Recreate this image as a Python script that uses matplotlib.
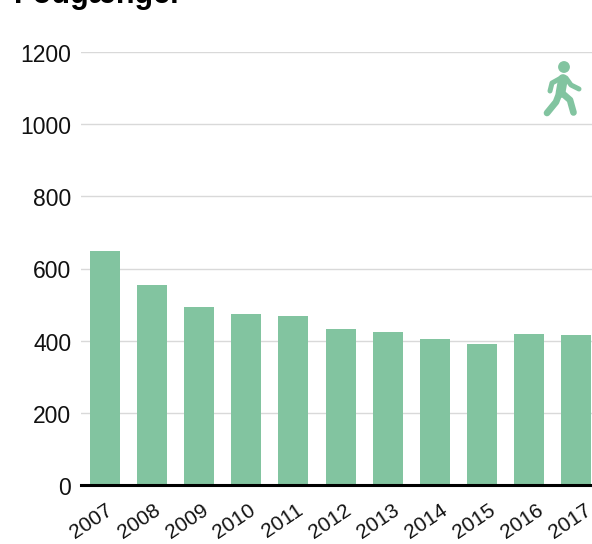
import matplotlib
matplotlib.use("Agg")
import matplotlib.pyplot as plt
from matplotlib.patches import Circle
from matplotlib.transforms import ScaledTranslation

years = ['2007', '2008', '2009', '2010', '2011', '2012', '2013', '2014', '2015', '2016', '2017']
values = [648, 554, 493, 474, 468, 432, 424, 405, 391, 418, 416]
yticks = [0, 200, 400, 600, 800, 1000, 1200]
title = "Fodgænger"

green = '#82c4a0'
W, H = 592, 544

plt.rcParams['font.family'] = ['Liberation Sans', 'DejaVu Sans']

fig = plt.figure(figsize=(W / 100, H / 100), dpi=100)
# axes box in pixels: left 81, right 592, y=0 at 485, y=1200 at 52
ax = fig.add_axes([81 / W, (H - 485) / H, (W - 81) / W, (485 - 52) / H])

x = list(range(len(years)))
ax.bar(x, values, width=0.637, color=green, zorder=2)
ax.set_xlim(-0.51, 10.34)
ax.set_ylim(0, 1200)

ax.set_yticks(yticks)
ax.set_yticklabels([str(v) for v in yticks], fontsize=16.5, color='#111111')
ax.set_xticks(x)
ax.set_xticklabels(years, fontsize=15, rotation=34, ha='center', color='#111111')
ax.tick_params(axis='y', length=0, pad=7)
ax.tick_params(axis='x', length=0, pad=11)
# year labels sit a little left of their bars
for i, lab in enumerate(ax.get_xticklabels()):
    lab.set_transform(lab.get_transform() + ScaledTranslation((-14 + 0.8 * i) / 100, 0, fig.dpi_scale_trans))
for lab in ax.get_yticklabels():
    lab.set_transform(lab.get_transform() + ScaledTranslation(0, -1 / 100, fig.dpi_scale_trans))

ax.grid(axis='y', color='#d9d9d9', linewidth=1, zorder=1)
ax.set_axisbelow(True)
for s in ['top', 'right', 'left']:
    ax.spines[s].set_visible(False)
ax.spines['bottom'].set_color('black')
ax.spines['bottom'].set_linewidth(2.2)
ax.spines['bottom'].set_zorder(3)

fig.text(14 / W, (H - 3) / H, title, fontsize=22, fontweight='bold', color='black', va='baseline')

# walking person icon, in pixel space of the figure
icon = fig.add_axes([0, 0, 1, 1], facecolor='none')
icon.set_xlim(0, W)
icon.set_ylim(H, 0)
icon.axis('off')
icon.add_patch(Circle((564, 67), 5.2, color=green))
kw = dict(color=green, solid_capstyle='round', solid_joinstyle='round')
icon.plot([563, 560.5], [79, 93], lw=7, **kw)               # body
icon.plot([559.5, 556, 547], [93, 102, 113], lw=4.8, **kw)  # back leg
icon.plot([562, 570, 573.5], [93, 100, 112.5], lw=4.8, **kw)  # front leg
icon.plot([561, 552, 550], [78, 83, 91], lw=3.6, **kw)      # rear arm
icon.plot([566, 571, 579], [78, 85, 89], lw=3.6, **kw)      # front arm

fig.savefig('out.png', dpi=100)
